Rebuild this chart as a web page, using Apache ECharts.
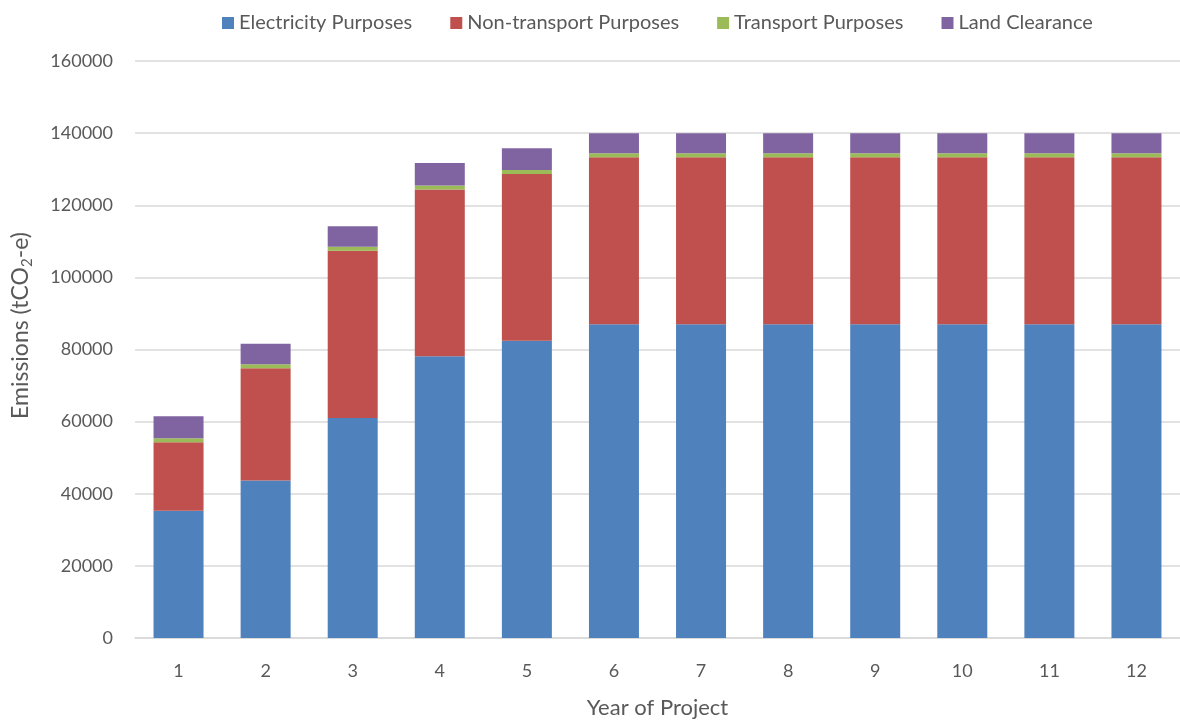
<!DOCTYPE html>
<html>
<head>
<meta charset="utf-8">
<script src="https://cdn.jsdelivr.net/npm/echarts@6/dist/echarts.min.js"></script>
<style>
  html, body { margin: 0; padding: 0; background: #ffffff; }
  #chart { width: 1180px; height: 724px; }
</style>
</head>
<body>
<div id="chart"></div>
<script>
// Project years and emissions per source (tCO2-e)
const years = ['1', '2', '3', '4', '5', '6', '7', '8', '9', '10', '11', '12'];
const electricity  = [35300, 43700, 61000, 78100, 82400, 87000, 87000, 87000, 87000, 87000, 87000, 87000];
const nonTransport = [19000, 31100, 46400, 46300, 46300, 46300, 46300, 46300, 46300, 46300, 46300, 46300];
const transport    = [1100, 1100, 1100, 1100, 1100, 1100, 1100, 1100, 1100, 1100, 1100, 1100];
const landClearing = [6100, 5700, 5700, 6200, 6000, 5600, 5600, 5600, 5600, 5600, 5600, 5600];
const seriesNames = ['Electricity Purposes', 'Non-transport Purposes', 'Transport Purposes', 'Land Clearance'];
const seriesColors = ['#4F81BD', '#C0504D', '#9BBB59', '#8064A2'];

const font = 'Lato, "Open Sans", sans-serif';
const textColor = '#595959';

const chart = echarts.init(document.getElementById('chart'), null, { renderer: 'canvas' });

const values = [electricity, nonTransport, transport, landClearing];
const series = values.map((data, i) => ({
  name: seriesNames[i],
  type: 'bar',
  stack: 'total',
  data: data,
  barWidth: 50,
  itemStyle: { color: seriesColors[i] }
}));

chart.setOption({
  animation: false,
  textStyle: { fontFamily: font, color: textColor },
  legend: {
    top: 8,
    left: 217,
    itemWidth: 12,
    itemHeight: 12,
    itemGap: 38,
    icon: 'rect',
    textStyle: { fontFamily: font, fontSize: 20, color: textColor },
    data: seriesNames
  },
  grid: { left: 135, top: 61, width: 1051, height: 579, containLabel: false },
  xAxis: {
    type: 'category',
    data: years,
    name: 'Year of Project',
    nameLocation: 'middle',
    nameGap: 59,
    nameTextStyle: { fontFamily: font, fontSize: 22, color: textColor },
    axisLine: { show: true, lineStyle: { color: '#D9D9D9', width: 1.5 } },
    axisTick: { show: false },
    axisLabel: { margin: 24, fontFamily: font, fontSize: 18, color: textColor }
  },
  yAxis: {
    type: 'value',
    min: 0,
    max: 160000,
    interval: 20000,
    name: 'Emissions (tCO{sub|2}-e)',
    nameLocation: 'middle',
    nameGap: 100,
    nameTextStyle: {
      fontFamily: font, fontSize: 23, color: textColor,
      padding: [0, 0, 0, 48],
      rich: {
        sub: { fontFamily: font, fontSize: 15, color: textColor, verticalAlign: 'bottom', padding: [13, 0, 0, 0] }
      }
    },
    axisLine: { show: false },
    axisTick: { show: false },
    axisLabel: { margin: 22, fontFamily: font, fontSize: 18, color: textColor, formatter: (v) => String(v) },
    splitLine: { lineStyle: { color: '#D9D9D9', width: 1.5 } }
  },
  series: series
});
</script>
</body>
</html>
